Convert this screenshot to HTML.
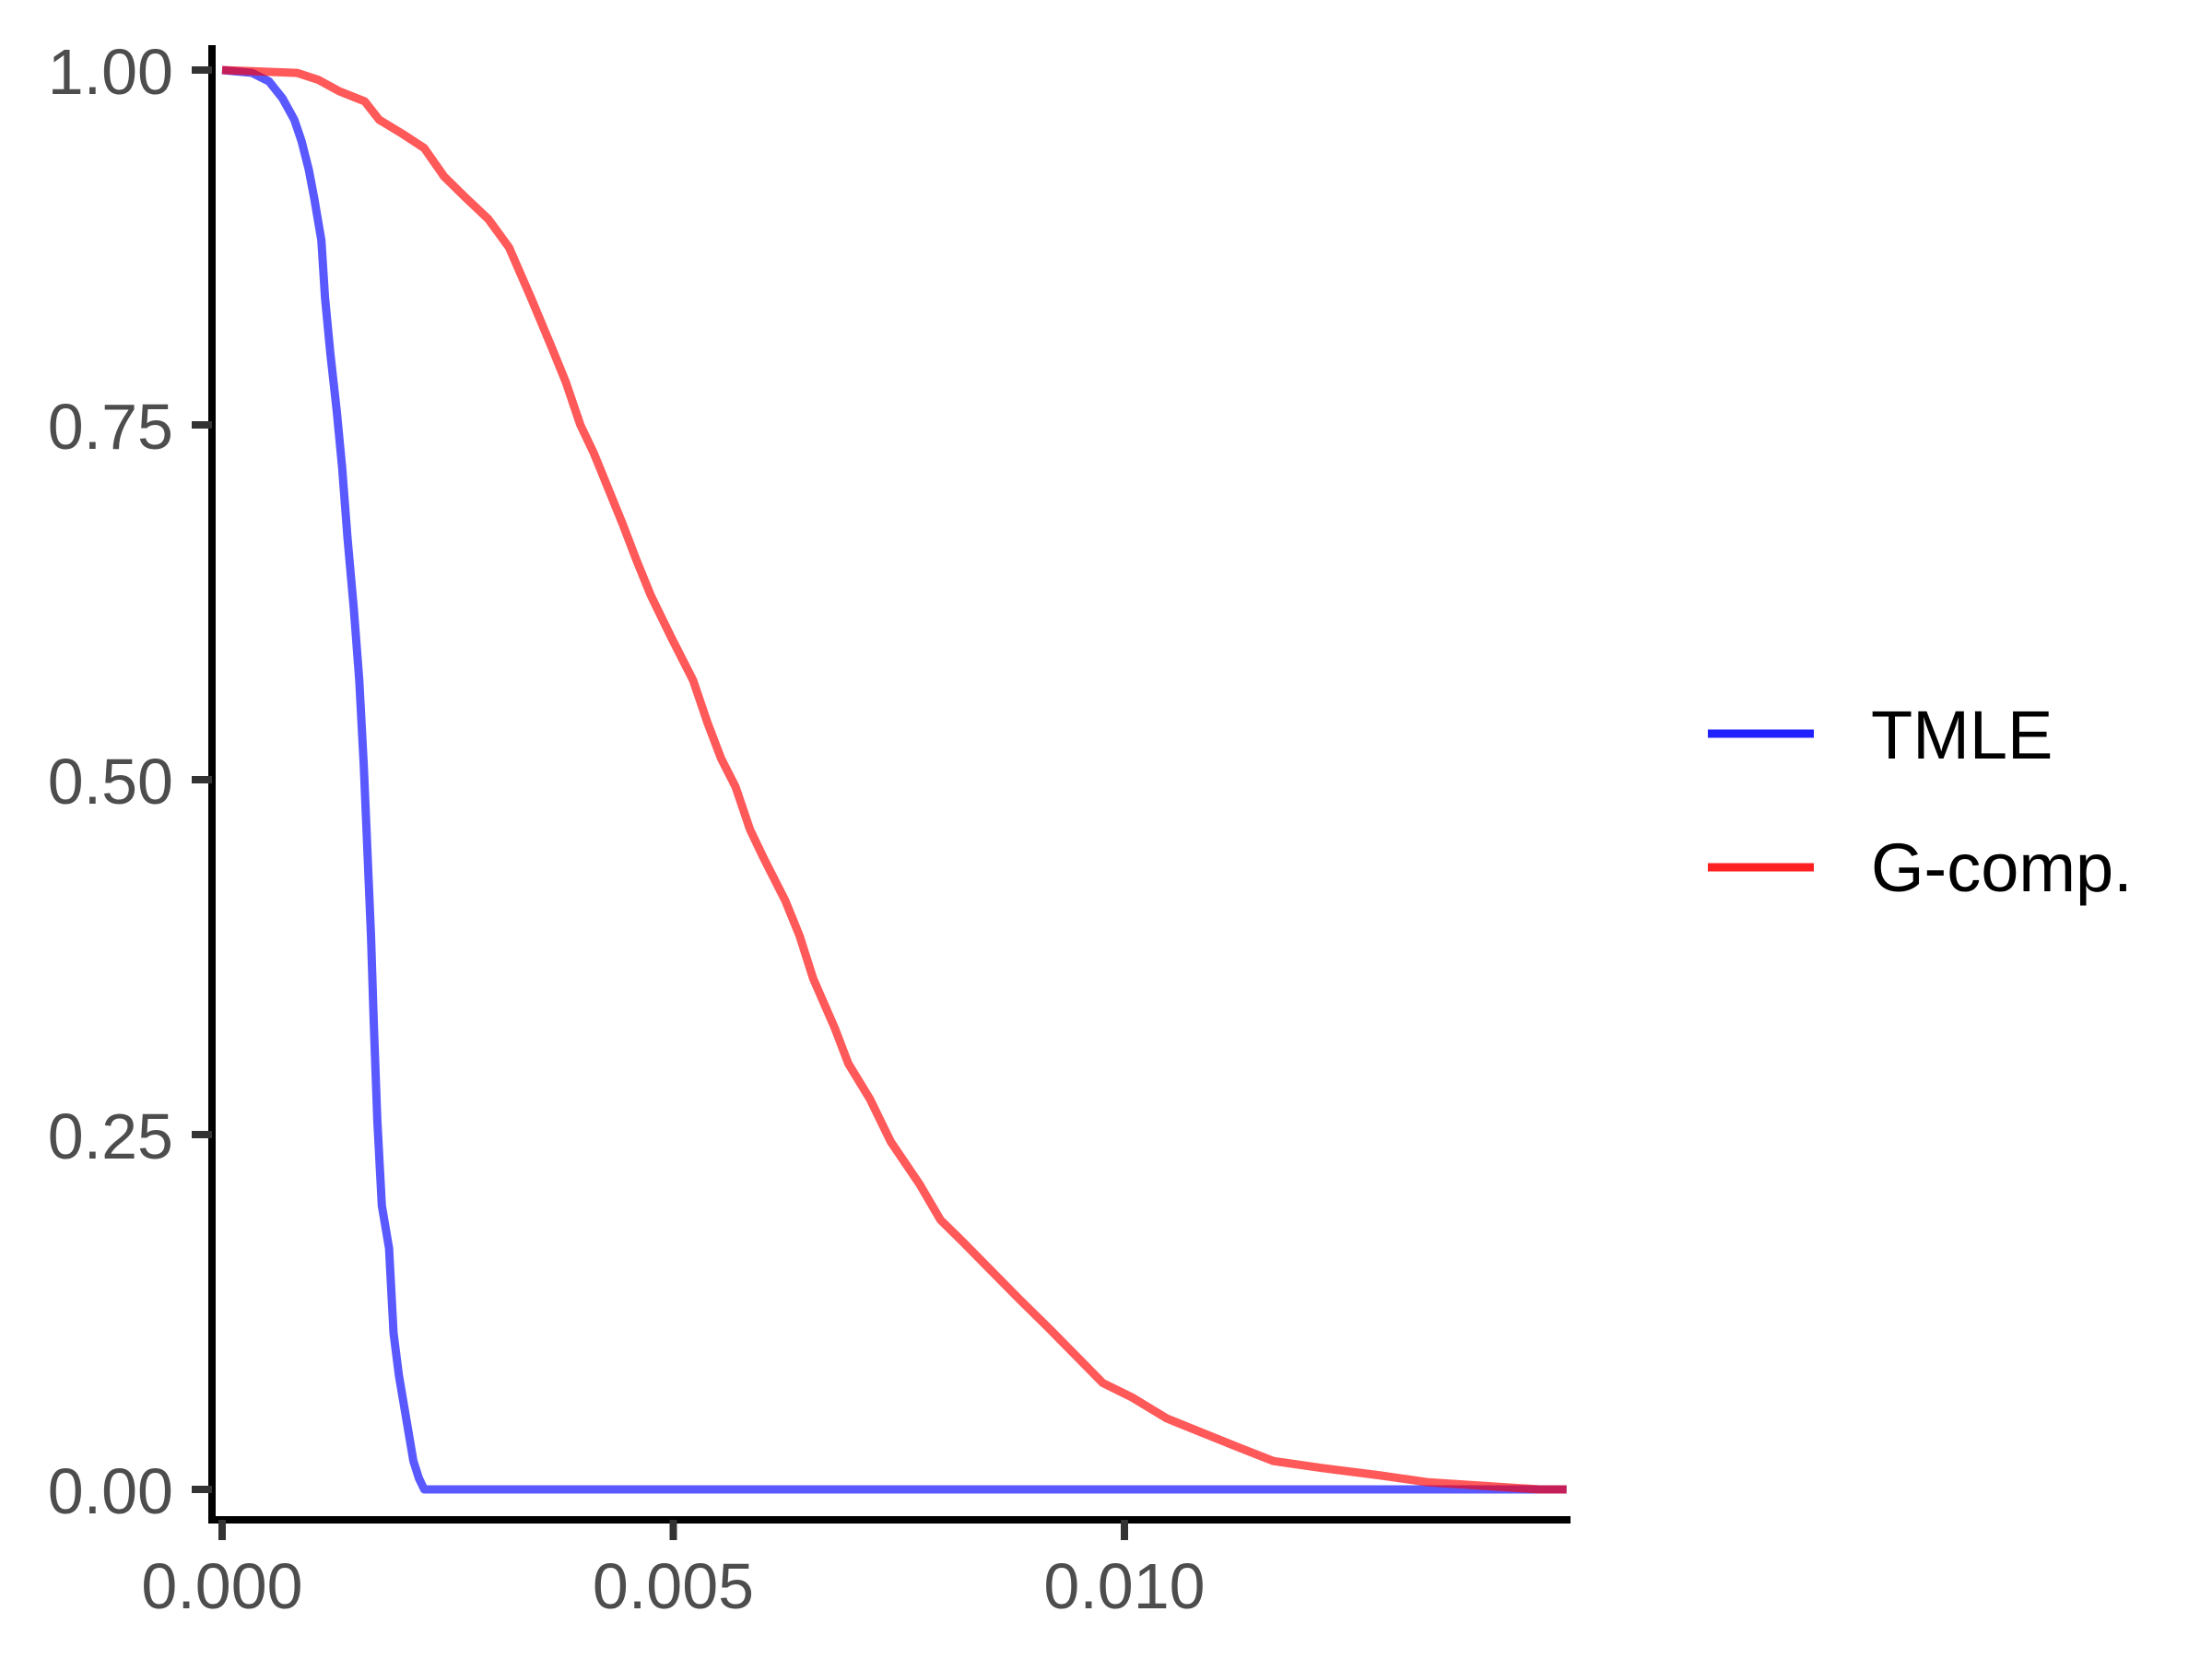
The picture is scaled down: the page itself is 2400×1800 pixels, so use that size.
<!DOCTYPE html>
<html><head><meta charset="utf-8"><style>
html,body{margin:0;padding:0;background:#fff;}
svg{display:block;}
text{font-family:"Liberation Sans",Arial,sans-serif;}
</style></head><body>
<svg id="chart" width="2400" height="1800" viewBox="0 0 2400 1800" xmlns="http://www.w3.org/2000/svg">
<g id="series"></g>
<g id="axes"></g>
<g id="legend">
  <line x1="1853" y1="796" x2="1968" y2="796" stroke="#0000ff" stroke-opacity="0.87" stroke-width="9"/>
  <text x="2030" y="823" font-size="74" fill="#000">TMLE</text>
  <line x1="1853" y1="941" x2="1968" y2="941" stroke="#ff0000" stroke-opacity="0.87" stroke-width="9"/>
  <text x="2030" y="967" font-size="74" fill="#000">G-comp.</text>
</g>
</svg>
<script>
const tmleX = [0,0.00033,0.00052,0.00067,0.0008,0.00088,0.00096,0.00102,0.0011,0.00114,0.0012,0.00127,0.00133,0.00139,0.00146,0.00152,0.00157,0.00161,0.00165,0.00168,0.00172,0.00177,0.00185,0.0019,0.00196,0.00204,0.00212,0.00218,0.00224,0.0149];
const tmleY = [1,0.998,0.992,0.98,0.965,0.95,0.93,0.91,0.88,0.84,0.8,0.76,0.72,0.67,0.62,0.57,0.51,0.45,0.39,0.33,0.26,0.2,0.17,0.11,0.08,0.05,0.02,0.008,0,0];
const gcompX = [0,0.00083,0.00107,0.0013,0.00158,0.00174,0.002,0.00224,0.00246,0.0027,0.00295,0.00318,0.00342,0.00365,0.00381,0.00397,0.00412,0.00428,0.00444,0.00459,0.00475,0.00498,0.00522,0.00538,0.00553,0.00569,0.00585,0.006,0.00624,0.0064,0.00655,0.00679,0.00694,0.00718,0.00741,0.00773,0.00796,0.0082,0.00851,0.00882,0.00914,0.00945,0.00976,0.01008,0.01047,0.01086,0.01125,0.01165,0.0122,0.01282,0.01337,0.0146,0.0149];
const gcompY = [1,0.998,0.993,0.985,0.978,0.965,0.955,0.945,0.925,0.91,0.895,0.875,0.84,0.805,0.78,0.75,0.73,0.705,0.68,0.655,0.63,0.6,0.57,0.54,0.515,0.495,0.465,0.445,0.415,0.39,0.36,0.325,0.3,0.275,0.245,0.215,0.19,0.175,0.155,0.135,0.115,0.095,0.075,0.065,0.05,0.04,0.03,0.02,0.015,0.01,0.005,0,0];
const yTicks = [0,0.25,0.5,0.75,1];
const yTickLabels = ["0.00","0.25","0.50","0.75","1.00"];
const xTicks = [0,0.005,0.01];
const xTickLabels = ["0.000","0.005","0.010"];

const NS="http://www.w3.org/2000/svg";
function sx(v){return 241 + v*97900;}
function sy(v){return 1616 - v*1540;}
function mk(tag,attrs,parent){const e=document.createElementNS(NS,tag);for(const k in attrs)e.setAttribute(k,attrs[k]);parent.appendChild(e);return e;}
function linePath(xs,ys){let d="M"+sx(xs[0])+","+sy(ys[0]);for(let i=1;i<xs.length;i++){d+=" L"+sx(xs[i])+","+sy(ys[i]);}return d;}
const series=document.getElementById('series');
const p1=mk('path',{d:linePath(tmleX,tmleY),fill:'none',stroke:'#0000ff','stroke-opacity':0.65,'stroke-width':9,'stroke-linejoin':'round'},series);


const p2=mk('path',{d:linePath(gcompX,gcompY),fill:'none',stroke:'#ff0000','stroke-opacity':0.65,'stroke-width':9,'stroke-linejoin':'round'},series);



const axes=document.getElementById('axes');
const ya=mk('line',{x1:230,y1:49,x2:230,y2:1653,stroke:'#000','stroke-width':8},axes);


const xa=mk('line',{x1:226,y1:1649,x2:1704,y2:1649,stroke:'#000','stroke-width':8},axes);


yTicks.forEach((t,i)=>{
  const l=mk('line',{x1:208,y1:sy(t),x2:230,y2:sy(t),stroke:'#333','stroke-width':8},axes);
  
  
  const tx=mk('text',{x:188,y:sy(t)+26,'font-size':70,fill:'#4d4d4d','text-anchor':'end'},axes);
  
  
  tx.textContent=yTickLabels[i];
});
xTicks.forEach((t,i)=>{
  const l=mk('line',{x1:sx(t),y1:1649,x2:sx(t),y2:1671,stroke:'#333','stroke-width':8},axes);
  
  
  const tx=mk('text',{x:sx(t),y:1745,'font-size':70,fill:'#4d4d4d','text-anchor':'middle'},axes);
  
  
  tx.textContent=xTickLabels[i];
});
</script>
</body></html>
